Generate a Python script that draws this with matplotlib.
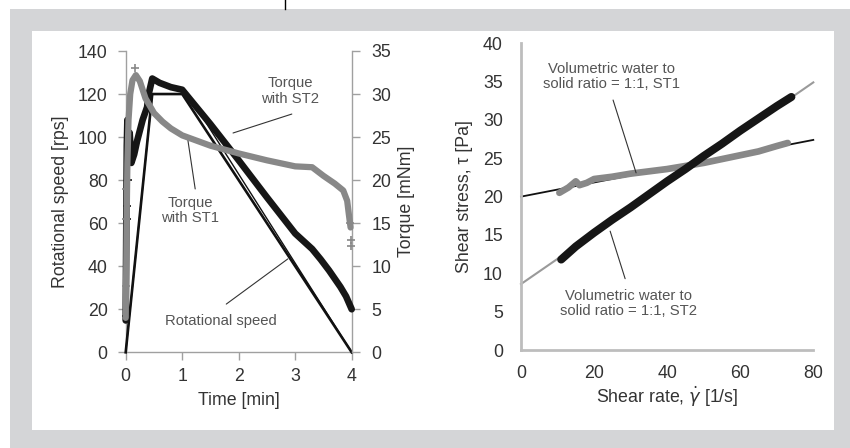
import matplotlib
matplotlib.use("Agg")
import matplotlib.pyplot as plt
from matplotlib.patches import Rectangle
from matplotlib.lines import Line2D

plt.rcParams['font.family'] = ['Liberation Sans', 'DejaVu Sans']

# ---------------- data: left chart (time in min) ----------------
speed_t = [0.0, 0.47, 1.0, 4.0]
speed_rps = [0, 120, 120, 0]
speed2_t = [0.0, 0.47, 1.1, 4.0]
speed2_rps = [0, 120, 120, 0]

st2_t = [0.0, 0.02, 0.03, 0.05, 0.07, 0.1, 0.15, 0.2, 0.3, 0.38, 0.4, 0.47, 0.6,
         0.8, 1.0, 1.5, 2.0, 2.5, 3.0, 3.3, 3.45, 3.6, 3.8, 3.9, 4.0]
st2_torque = [3.7, 24.0, 27.0, 22.5, 25.5, 22.0, 23.0, 24.5, 27.0, 28.5, 29.8, 31.8, 31.3,
              30.8, 30.5, 26.5, 22.3, 18.0, 13.8, 12.0, 10.8, 9.5, 7.6, 6.5, 5.0]

st1_t = [0.0, 0.01, 0.02, 0.03, 0.05, 0.08, 0.12, 0.18, 0.25, 0.35, 0.5, 0.65, 0.8, 1.0,
         1.25, 1.5, 2.0, 2.5, 3.0, 3.3, 3.5, 3.7, 3.85, 3.92, 3.95, 3.98]
st1_torque = [4.0, 10.0, 17.0, 22.0, 27.0, 30.0, 31.6, 32.2, 31.5, 29.5, 27.8, 26.8, 26.0, 25.2,
              24.6, 24.0, 23.1, 22.3, 21.6, 21.5, 20.5, 19.6, 18.8, 17.6, 16.0, 14.5]

st1_extra_t = [0.0, 0.0, 0.01, 0.17, 3.98, 3.99, 3.97]
st1_extra_torque = [7.7, 15.5, 19.0, 33.0, 13.0, 12.3, 15.0]
st2_extra_t = [0.01, 0.02, 0.03, 0.04]
st2_extra_torque = [4.2, 15.5, 17.0, 20.0]

# ---------------- data: right chart ----------------
rate_st1 = [10.5, 13, 15, 16, 18, 20, 25, 30, 35, 40, 45, 50, 55, 60, 65, 70, 73]
tau_st1 = [20.5, 21.2, 22.0, 21.5, 21.8, 22.3, 22.6, 23.0, 23.3, 23.6, 24.0, 24.4,
           24.9, 25.4, 25.9, 26.6, 27.0]
rate_st2 = [11, 15, 20, 25, 30, 35, 40, 45, 50, 55, 60, 65, 70, 74]
tau_st2 = [11.8, 13.5, 15.3, 17.0, 18.6, 20.3, 22.0, 23.6, 25.3, 26.9, 28.6, 30.2, 31.8, 33.0]
fit1_rate = [0, 80]
fit1_tau = [20.0, 27.4]
fit2_rate = [0, 80]
fit2_tau = [8.6, 34.9]

W, H = 850, 448
fig = plt.figure(figsize=(W / 100, H / 100), dpi=100)
fig.patch.set_facecolor('white')

# frame
fig.patches.append(Rectangle((10 / W, 0), (W - 10) / W, (H - 9) / H,
                             transform=fig.transFigure, facecolor='#d4d5d7',
                             edgecolor='none', zorder=-10))
fig.patches.append(Rectangle((32 / W, (H - 430) / H), (834 - 32) / W, (430 - 31) / H,
                             transform=fig.transFigure, facecolor='white',
                             edgecolor='none', zorder=-9))
fig.lines.append(Line2D([285 / W, 285 / W], [1.0, (H - 9) / H], transform=fig.transFigure,
                        color='black', lw=1, zorder=-8))

def axes_px(x0, y0, x1, y1):
    return fig.add_axes([x0 / W, (H - y1) / H, (x1 - x0) / W, (y1 - y0) / H])

tick_color = '#333333'
txt_color = '#555555'
spine_color = '#a0a0a0'
FS = 12.8

# ---------------- left chart ----------------
ax = axes_px(125.7, 51, 351.7, 352.3)
ax.set_facecolor('none')
ax2 = ax.twinx()
ax2.set_facecolor('none')
ax.set_xlim(0, 4)
ax.set_ylim(0, 140)
ax2.set_ylim(0, 35)

for a in (ax, ax2):
    a.spines['top'].set_visible(False)
ax.spines['right'].set_visible(False)
ax2.spines['left'].set_visible(False)
ax2.spines['bottom'].set_visible(False)
for s in ('left', 'bottom'):
    ax.spines[s].set_color(spine_color)
    ax.spines[s].set_linewidth(1.0)
ax2.spines['right'].set_color(spine_color)
ax2.spines['right'].set_linewidth(1.0)

ax.set_xticks([0, 1, 2, 3, 4])
ax.set_yticks(range(0, 141, 20))
ax2.set_yticks(range(0, 36, 5))
ax.tick_params(axis='both', colors=spine_color, labelcolor=tick_color, labelsize=FS,
               length=6, width=1, direction='out', pad=5)
ax.tick_params(axis='y', pad=7)
ax2.tick_params(axis='y', colors=spine_color, labelcolor=tick_color, labelsize=FS,
                length=6, width=1, direction='out', pad=8)

ax.set_xlabel('Time [min]', fontsize=FS, color=tick_color, labelpad=5)
ax.set_ylabel('Rotational speed [rps]', fontsize=FS, color=tick_color, labelpad=6)
ax2.set_ylabel('Torque [mNm]', fontsize=FS, color=tick_color, labelpad=5)

ax.plot(speed2_t, speed2_rps, color='#111111', lw=1.0, zorder=3, clip_on=False)
ax.plot(speed_t, speed_rps, color='#111111', lw=1.9, zorder=3, clip_on=False)
ax2.plot(st2_t, st2_torque, color='#161616', lw=4.8, solid_joinstyle='round',
         solid_capstyle='round', zorder=3, clip_on=False)
ax2.plot(st2_extra_t, st2_extra_torque, ls='none', marker='+', ms=6, mew=1.2,
         color='#161616', zorder=3, clip_on=False)
ax2.plot(st1_t, st1_torque, color='#888888', lw=4.5, solid_joinstyle='round',
         solid_capstyle='round', zorder=4, clip_on=False)
ax2.plot(st1_extra_t, st1_extra_torque, ls='none', marker='+', ms=6, mew=1.2,
         color='#888888', zorder=4, clip_on=False)

ann_kw = dict(fontsize=10.7, color=txt_color, ha='center', va='center', linespacing=1.1)
line_kw = dict(arrowstyle='-', color='#333333', lw=0.8, shrinkA=0, shrinkB=0)

ax.text(2.91, 121.4, 'Torque\nwith ST2', **ann_kw)
ax.annotate('', xy=(1.9, 101.9), xytext=(2.94, 110.7), arrowprops=line_kw)
ax.text(1.14, 66, 'Torque\nwith ST1', **ann_kw)
ax.annotate('', xy=(1.10, 98.7), xytext=(1.23, 75.9), arrowprops=line_kw)
ax.text(1.69, 14.5, 'Rotational speed', **ann_kw)
ax.annotate('', xy=(2.87, 43.4), xytext=(1.78, 22.4), arrowprops=line_kw)

# ---------------- right chart ----------------
bx = axes_px(521, 43.3, 813.3, 350)
bx.set_facecolor('none')
bx.set_xlim(0, 80)
bx.set_ylim(0, 40)
bx.spines['top'].set_visible(False)
bx.spines['right'].set_visible(False)
for s in ('left', 'bottom'):
    bx.spines[s].set_color('#bdbdbd')
    bx.spines[s].set_linewidth(2)
bx.set_xticks(range(0, 81, 20))
bx.set_yticks(range(0, 41, 5))
bx.tick_params(axis='both', length=0, labelcolor=tick_color, labelsize=FS)
bx.tick_params(axis='x', pad=11)
bx.tick_params(axis='y', pad=13)
bx.set_xlabel(r'Shear rate, $\dot{\gamma}$ [1/s]', fontsize=FS, color=tick_color, labelpad=2)
bx.set_ylabel('Shear stress, τ [Pa]', fontsize=FS, color=tick_color, labelpad=7)

bx.plot(fit1_rate, fit1_tau, color='#111111', lw=1.3, zorder=2, clip_on=False)
bx.plot(fit2_rate, fit2_tau, color='#9a9a9a', lw=1.5, zorder=2, clip_on=False)
bx.plot(rate_st1, tau_st1, color='#888888', lw=4.8, solid_joinstyle='round',
        solid_capstyle='round', zorder=3)
bx.plot(rate_st2, tau_st2, color='#161616', lw=5.8, solid_joinstyle='round',
        solid_capstyle='round', zorder=4)

bx.text(24.9, 35.7, 'Volumetric water to\nsolid ratio = 1:1, ST1', **ann_kw)
bx.annotate('', xy=(31.5, 23.1), xytext=(25.2, 32.6), arrowprops=line_kw)
bx.text(29.3, 6.1, 'Volumetric water to\nsolid ratio = 1:1, ST2', **ann_kw)
bx.annotate('', xy=(24.4, 15.5), xytext=(28.5, 9.3), arrowprops=line_kw)

fig.savefig('out.png', dpi=100)
